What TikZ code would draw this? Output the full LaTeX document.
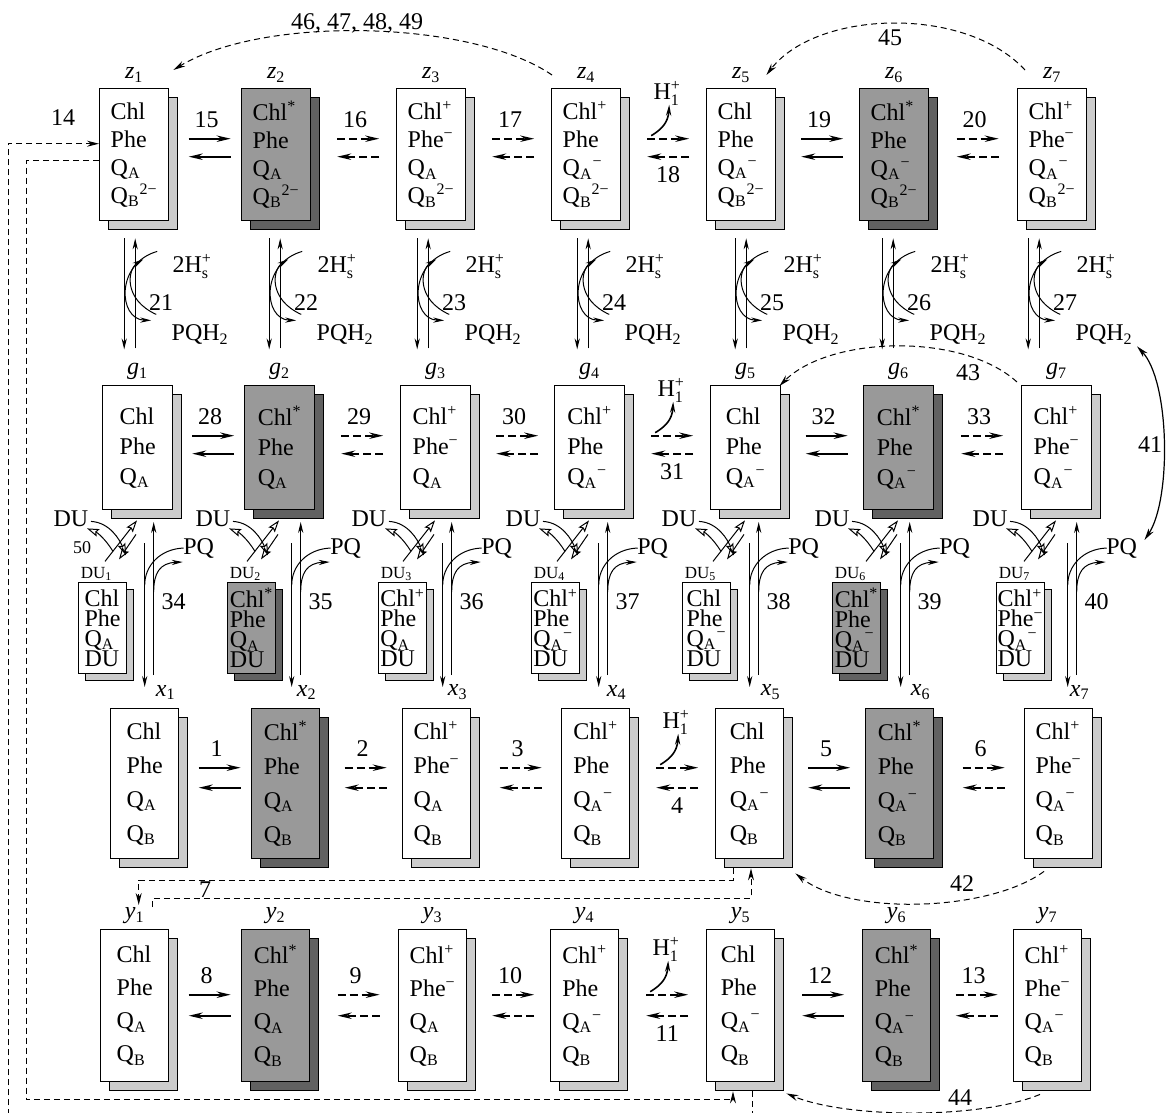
\documentclass[tikz,border=0pt]{standalone}
\usepackage{amsmath}
\usepackage{fontspec}
\setmainfont{Liberation Serif}
\usetikzlibrary{arrows.meta, calc, shadows}

\newcommand{\QA}{Q\textsubscript{A}}
\newcommand{\QB}{Q\textsubscript{B}}
\newcommand{\supp}{\textsuperscript{+}}
\newcommand{\supm}{\textsuperscript{−}}
\newcommand{\supst}{\textsuperscript{*}}
\newcommand{\suptwo}{\textsuperscript{2−}}
\newcommand{\tightlines}{\fontsize{12}{10}\selectfont\lineskiplimit=-20pt\relax}

\begin{document}
\begin{tikzpicture}[x=0.5pt, y=-0.5pt, font=\fontsize{12}{14}\selectfont]
    \tikzstyle{lightbox} = [rectangle, draw=black, line width=0.7pt, fill=white, align=left, inner sep=1pt, general shadow={fill=black!20, draw=black, line width=0.7pt, shadow xshift=4.5pt, shadow yshift=-4.5pt}]
    \tikzstyle{darkbox} = [rectangle, draw=black, line width=0.7pt, fill=black!40, align=left, inner sep=1pt, general shadow={fill=black!62, draw=black, line width=0.7pt, shadow xshift=4.5pt, shadow yshift=-4.5pt}]
    \tikzstyle{lightdu} = [rectangle, draw=black, line width=0.6pt, fill=white, align=left, inner sep=0.5pt, general shadow={fill=black!20, draw=black, line width=0.6pt, shadow xshift=3.5pt, shadow yshift=-3.5pt}]
    \tikzstyle{darkdu} = [rectangle, draw=black, line width=0.6pt, fill=black!40, align=left, inner sep=0.5pt, general shadow={fill=black!62, draw=black, line width=0.6pt, shadow xshift=3.5pt, shadow yshift=-3.5pt}]
    \tikzstyle{zsize} = [anchor=north west, minimum width=34.5pt, minimum height=66pt, font=\fontsize{12}{14}\selectfont]
    \tikzstyle{gsize} = [anchor=north west, minimum width=35pt, minimum height=62pt, font=\fontsize{12}{15}\selectfont]
    \tikzstyle{xsize} = [anchor=north west, minimum width=34pt, minimum height=75pt, font=\fontsize{12}{17}\selectfont]
    \tikzstyle{ysize} = [anchor=north west, minimum width=34pt, minimum height=76pt, font=\fontsize{12}{16.5}\selectfont]
    \tikzstyle{dusize} = [anchor=north west, minimum width=24pt, minimum height=45.5pt, font=\tightlines]
    \tikzstyle{idx} = [inner sep=1pt, yshift=1.5pt]
    \tikzstyle{dulab} = [inner sep=0.5pt, xshift=-3pt, font=\fontsize{8.5}{9}\selectfont]
    \tikzstyle{num} = [inner sep=1pt]
    \tikzstyle{fwd} = [line width=1pt, -{Stealth[length=7pt, width=3.2pt]}]
    \tikzstyle{fwddash} = [line width=0.9pt, dash pattern=on 4pt off 2pt, -{Stealth[length=7pt, width=3.2pt]}]
    \tikzstyle{vline} = [line width=0.5pt]
    \tikzstyle{varrow} = [line width=0.5pt, -{Stealth[length=5.5pt, width=2.6pt]}]
    \tikzstyle{hollow} = [line width=0.5pt, -{Stealth[open, length=6pt, width=4pt, inset=1pt]}]
    \tikzstyle{longdash} = [line width=0.5pt, dash pattern=on 3pt off 2pt, -{Stealth[length=6pt, width=3pt]}]

    \useasboundingbox (0,0) rectangle (1167,1113);

    % z states
    \node (z1) [lightbox, zsize, label={[idx]above:{\textit{z}\textsubscript{1}}}] at (99,88) {Chl\\Phe\\\QA\\\QB\suptwo};
    \node (z2) [darkbox, zsize, label={[idx]above:{\textit{z}\textsubscript{2}}}] at (241,88) {Chl\supst\\Phe\\\QA\\\QB\suptwo};
    \node (z3) [lightbox, zsize, label={[idx]above:{\textit{z}\textsubscript{3}}}] at (396,88) {Chl\supp\\Phe\supm\\\QA\\\QB\suptwo};
    \node (z4) [lightbox, zsize, label={[idx]above:{\textit{z}\textsubscript{4}}}] at (551,88) {Chl\supp\\Phe\\\QA\supm\\\QB\suptwo};
    \node (z5) [lightbox, zsize, label={[idx]above:{\textit{z}\textsubscript{5}}}] at (706,88) {Chl\\Phe\\\QA\supm\\\QB\suptwo};
    \node (z6) [darkbox, zsize, label={[idx]above:{\textit{z}\textsubscript{6}}}] at (859,88) {Chl\supst\\Phe\\\QA\supm\\\QB\suptwo};
    \node (z7) [lightbox, zsize, label={[idx]above:{\textit{z}\textsubscript{7}}}] at (1017,88) {Chl\supp\\Phe\supm\\\QA\supm\\\QB\suptwo};

    % g states
    \node (g1) [lightbox, gsize, label={[idx]above:{\textit{g}\textsubscript{1}}}] at (102,385) {Chl\\Phe\\\QA};
    \node (g2) [darkbox, gsize, label={[idx]above:{\textit{g}\textsubscript{2}}}] at (244,385) {Chl\supst\\Phe\\\QA};
    \node (g3) [lightbox, gsize, label={[idx]above:{\textit{g}\textsubscript{3}}}] at (400,385) {Chl\supp\\Phe\supm\\\QA};
    \node (g4) [lightbox, gsize, label={[idx]above:{\textit{g}\textsubscript{4}}}] at (554,385) {Chl\supp\\Phe\\\QA\supm};
    \node (g5) [lightbox, gsize, label={[idx]above:{\textit{g}\textsubscript{5}}}] at (710,385) {Chl\\Phe\\\QA\supm};
    \node (g6) [darkbox, gsize, label={[idx]above:{\textit{g}\textsubscript{6}}}] at (863,385) {Chl\supst\\Phe\\\QA\supm};
    \node (g7) [lightbox, gsize, label={[idx]above:{\textit{g}\textsubscript{7}}}] at (1021,385) {Chl\supp\\Phe\supm\\\QA\supm};

    % DU-bound states
    \node (du1) [lightdu, dusize, label={[dulab]above:{DU\textsubscript{1}}}] at (78,582) {Chl\\Phe\\\QA\\DU};
    \node (du2) [darkdu, dusize, label={[dulab]above:{DU\textsubscript{2}}}] at (227,582) {Chl\supst\\Phe\\\QA\\DU};
    \node (du3) [lightdu, dusize, label={[dulab]above:{DU\textsubscript{3}}}] at (378,582) {Chl\supp\\Phe\\\QA\\DU};
    \node (du4) [lightdu, dusize, label={[dulab]above:{DU\textsubscript{4}}}] at (531,582) {Chl\supp\\Phe\\\QA\supm\\DU};
    \node (du5) [lightdu, dusize, label={[dulab]above:{DU\textsubscript{5}}}] at (682,582) {Chl\\Phe\\\QA\supm\\DU};
    \node (du6) [darkdu, dusize, label={[dulab]above:{DU\textsubscript{6}}}] at (832,582) {Chl\supst\\Phe\\\QA\supm\\DU};
    \node (du7) [lightdu, dusize, label={[dulab]above:{DU\textsubscript{7}}}] at (996,582) {Chl\supp\\Phe\supm\\\QA\supm\\DU};

    % x states
    \node (x1) [lightbox, xsize, label={[idx, xshift=10.5pt, yshift=1.5pt]above:{\textit{x}\textsubscript{1}}}] at (110,708) {Chl\\Phe\\\QA\\\QB};
    \node (x2) [darkbox, xsize, label={[idx, xshift=10.5pt, yshift=1.5pt]above:{\textit{x}\textsubscript{2}}}] at (251,708) {Chl\supst\\Phe\\\QA\\\QB};
    \node (x3) [lightbox, xsize, label={[idx, xshift=10.5pt, yshift=1.5pt]above:{\textit{x}\textsubscript{3}}}] at (402,708) {Chl\supp\\Phe\supm\\\QA\\\QB};
    \node (x4) [lightbox, xsize, label={[idx, xshift=10.5pt, yshift=1.5pt]above:{\textit{x}\textsubscript{4}}}] at (561,708) {Chl\supp\\Phe\\\QA\supm\\\QB};
    \node (x5) [lightbox, xsize, label={[idx, xshift=10.5pt, yshift=1.5pt]above:{\textit{x}\textsubscript{5}}}] at (715,708) {Chl\\Phe\\\QA\supm\\\QB};
    \node (x6) [darkbox, xsize, label={[idx, xshift=10.5pt, yshift=1.5pt]above:{\textit{x}\textsubscript{6}}}] at (865,708) {Chl\supst\\Phe\\\QA\supm\\\QB};
    \node (x7) [lightbox, xsize, label={[idx, xshift=10.5pt, yshift=1.5pt]above:{\textit{x}\textsubscript{7}}}] at (1024,708) {Chl\supp\\Phe\supm\\\QA\supm\\\QB};

    % y states
    \node (y1) [lightbox, ysize, label={[idx]above:{\textit{y}\textsubscript{1}}}] at (100,929) {Chl\\Phe\\\QA\\\QB};
    \node (y2) [darkbox, ysize, label={[idx]above:{\textit{y}\textsubscript{2}}}] at (241,929) {Chl\supst\\Phe\\\QA\\\QB};
    \node (y3) [lightbox, ysize, label={[idx]above:{\textit{y}\textsubscript{3}}}] at (398,929) {Chl\supp\\Phe\supm\\\QA\\\QB};
    \node (y4) [lightbox, ysize, label={[idx]above:{\textit{y}\textsubscript{4}}}] at (550,929) {Chl\supp\\Phe\\\QA\supm\\\QB};
    \node (y5) [lightbox, ysize, label={[idx]above:{\textit{y}\textsubscript{5}}}] at (706,929) {Chl\\Phe\\\QA\supm\\\QB};
    \node (y6) [darkbox, ysize, label={[idx]above:{\textit{y}\textsubscript{6}}}] at (862,929) {Chl\supst\\Phe\\\QA\supm\\\QB};
    \node (y7) [lightbox, ysize, label={[idx]above:{\textit{y}\textsubscript{7}}}] at (1013,929) {Chl\supp\\Phe\supm\\\QA\supm\\\QB};

    % horizontal pairs in every row
    \foreach \rw/\bs/\up/\lo in {z/15/-16/2, g/28/-12/6, x/1/-16/4, y/8/-11/10} {
        \foreach \ia/\ib/\sty in {1/2/fwd, 2/3/fwddash, 3/4/fwddash, 4/5/fwddash, 5/6/fwd, 6/7/fwddash} {
            \pgfmathtruncatemacro\nr{\bs+\ia-1}
            \coordinate (m) at ($(\rw\ia.east)!0.5!(\rw\ib.west)+(4.5,0)$);
            \draw [\sty] ($(m)+(-21,\up)$) -- ($(m)+(21,\up)$);
            \draw [\sty] ($(m)+(21,\lo)$) -- ($(m)+(-21,\lo)$);
            \ifnum\ia=4
                \node [num] at ($(m)+(0,\lo+18)$) {\nr};
                \draw [varrow, line width=0.8pt] ($(m)+(-17,\up-3)$) .. controls ($(m)+(-7,\up-9)$) and ($(m)+(0,\up-16)$) .. ($(m)+(1,\up-34)$);
                \node [num] at ($(m)+(-1,\up-45)$) {H$^{\text{+}}_{\text{1}}$};
            \else
                \node [num] at ($(m)+(-3,\up-19)$) {\nr};
            \fi
        }
    }

    % z <-> g with 2H+ / PQH2
    \foreach \col/\off in {1/-10, 2/-7, 3/-14, 4/-9, 5/-6, 6/-12, 7/-24} {
        \coordinate (r) at ($(z\col.south)+(\off+11,0)$);
        \draw [varrow] ($(r)+(-11,17)$) -- ($(r)+(-11,128)$);
        \draw [varrow] ($(r)+(0,127)$) -- ($(r)+(0,17)$);
        \draw [varrow] ($(r)+(22,30)$) .. controls ($(r)+(-20,42)$) and ($(r)+(-17,98)$) .. ($(r)+(16,99)$);
        \draw [varrow] ($(r)+(21,93)$) .. controls ($(r)+(-12,78)$) and ($(r)+(-8,48)$) .. ($(r)+(8,38)$);
        \pgfmathtruncatemacro\nr{20+\col}
        \node [num] at ($(r)+(57,45)$) {2H$^{\text{+}}_{\text{s}}$};
        \node [num] at ($(r)+(26,81)$) {\nr};
        \node (pqh\col) [num] at ($(r)+(65,113)$) {PQH\textsubscript{2}};
    }

    % g <-> x with PQ
    \foreach \col/\off in {1/0, 2/6, 3/6, 4/3, 5/0, 6/1, 7/9} {
        \coordinate (d) at ($(x\col.north)+(\off,0)$);
        \draw [varrow] ($(d)+(0,-165)$) -- ($(d)+(0,-21)$);
        \draw [varrow] ($(d)+(9,-33)$) -- ($(d)+(9,-186)$);
        \draw [vline] ($(d)+(39,-160)$) .. controls ($(d)+(15,-159)$) and ($(d)+(0,-142)$) .. ($(d)+(0,-123)$);
        \draw [varrow] ($(d)+(9,-116)$) .. controls ($(d)+(9,-135)$) and ($(d)+(15,-145)$) .. ($(d)+(38,-146)$);
        \pgfmathtruncatemacro\nr{33+\col}
        \node (pq\col) [num] at ($(d)+(54,-160)$) {PQ};
        \node [num] at ($(d)+(29,-106)$) {\nr};
    }

    % DU binding
    \foreach \col in {1,...,7} {
        \coordinate (b) at (g\col.south west);
        \node (dul\col) [num] at ($(b)+(-31,8)$) {DU};
        \draw [hollow] ($(b)+(3,51)$) -- ($(b)+(35,10)$);
        \draw [hollow] ($(b)+(34,24)$) -- ($(b)+(17,49)$);
        \draw [hollow] ($(b)+(-11,11)$) .. controls ($(b)+(8,12)$) and ($(b)+(18,30)$) .. ($(b)+(24,45)$);
        \draw [hollow] ($(b)+(11,41)$) .. controls ($(b)+(3,28)$) and ($(b)+(-5,22)$) .. ($(b)+(-15,18)$);
    }
    \node [num, font=\fontsize{9}{10}\selectfont] at (82,548) {50};

    % long-range transitions
    \draw [longdash] ($(z4.north west)+(1,-13)$) .. controls +(-80,-55) and +(90,-55) .. ($(z1.north east)+(4,-18)$);
    \node [num] at (357,23) {46, 47, 48, 49};
    \draw [longdash] ($(z7.north west)+(8,-18)$) .. controls +(-60,-65) and +(50,-65) .. ($(z5.north east)+(-10,-13)$);
    \node [num] at (890,38) {45};
    \draw [longdash] ($(g7.north west)+(-4,-3)$) .. controls +(-55,-50) and +(50,-50) .. ($(g5.north east)+(-2,1)$);
    \node [num] at (968,373) {43};
    \draw [line width=0.6pt, {Stealth[length=6pt, width=3pt]}-{Stealth[length=6pt, width=3pt]}] ($(pqh7.east)+(2,12)$) .. controls +(33,35) and +(27,-40) .. ($(pq7.east)+(5,-8)$);
    \node [num] at (1150,445) {41};
    \draw [longdash] ($(x7.south west)+(20,12)$) .. controls +(-54,40) and +(55,43) .. ($(x5.south east)+(11,14)$);
    \node [num] at (962,884) {42};
    \draw [longdash] ($(y7.south west)+(27,12)$) .. controls +(-60,25) and +(60,25) .. ($(y5.south east)+(11,11)$);
    \node [num] at (960,1098) {44};

    % x5 <-> y1
    \draw [longdash] ($(x5.south west)+(18,9)$) |- ($(y1.north)+(4,-49)$) -- ($(y1.north)+(4,-24)$);
    \draw [longdash] ($(y1.north)+(18,-22)$) |- ($(x5.south west)+(36,39)$) -- ($(x5.south west)+(36,9)$);
    \node [num] at (205,890) {7};

    % y5 <-> z1
    \draw [longdash] ($(y5.south west)+(46,9)$) -- ++(0,40) -| ($(z1.west)+(-91,-11)$) -- ($(z1.west)+(0,-11)$);
    \draw [longdash] ($(z1.west)+(0,6)$) -- ++(-73,0) |- ($(y5.south west)+(27,17)$) -- ($(y5.south west)+(27,9)$);
    \node [num] at (63,118) {14};
\end{tikzpicture}
\end{document}
